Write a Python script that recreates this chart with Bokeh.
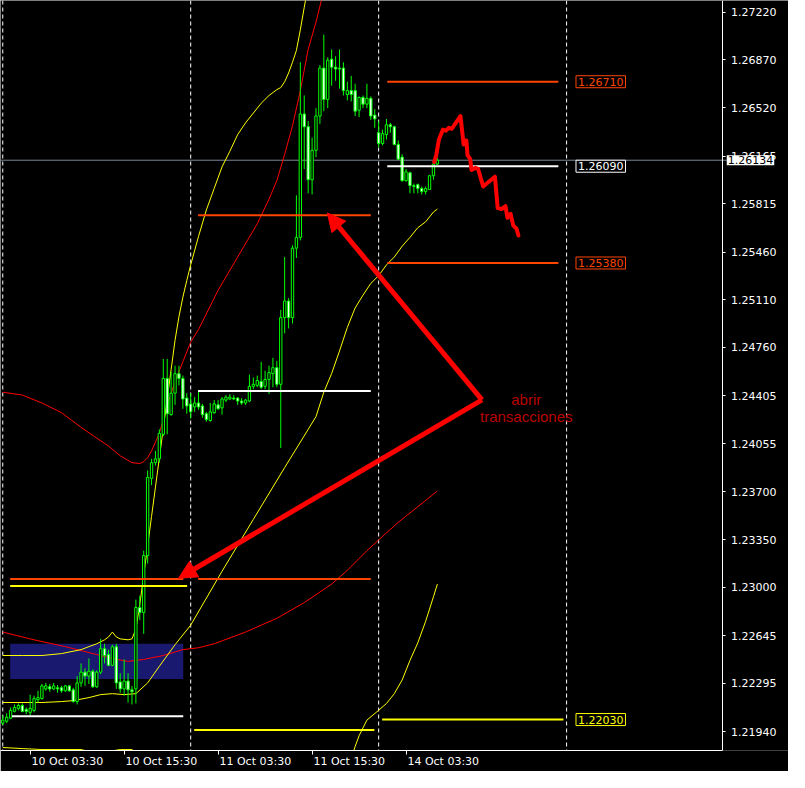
from bokeh.plotting import figure
from bokeh.models import (ColumnDataSource, Range1d, FixedTicker, PrintfTickFormatter, LinearAxis,
                          Label, Arrow, NormalHead, Span, BoxAnnotation)
from bokeh.embed import file_html
from bokeh.resources import INLINE

# ---------------- M30 candles (bar 0 = 10 Oct 00:00) ----------------
opens = [1.22004, 1.22018, 1.22040, 1.22090, 1.22112, 1.22133, 1.22105, 1.22083, 1.22097, 1.22176,
         1.22184, 1.22255, 1.22270, 1.22255, 1.22263, 1.22263, 1.22241, 1.22277, 1.22248, 1.22162,
         1.22299, 1.22378, 1.22349, 1.22385, 1.22270, 1.22378, 1.22550, 1.22507, 1.22428, 1.22564,
         1.22306, 1.22255, 1.22313, 1.22248, 1.22255, 1.22852, 1.22816, 1.23233, 1.23800, 1.23915,
         1.23943, 1.24123, 1.24533, 1.24267, 1.24425, 1.24568, 1.24533, 1.24389, 1.24346, 1.24324,
         1.24353, 1.24331, 1.24274, 1.24224, 1.24281, 1.24339, 1.24317, 1.24374, 1.24382, 1.24389,
         1.24389, 1.24367, 1.24353, 1.24367, 1.24475, 1.24482, 1.24511, 1.24475, 1.24525, 1.24568,
         1.24612, 1.24490, 1.24979, 1.25101, 1.24979, 1.25489, 1.25568, 1.26473, 1.26380, 1.25991,
         1.26207, 1.26458, 1.26810, 1.26580, 1.26875, 1.26817, 1.26810, 1.26810, 1.26616, 1.26645,
         1.26645, 1.26501, 1.26595, 1.26545, 1.26588, 1.26465, 1.26336, 1.26257, 1.26322, 1.26394,
         1.26380, 1.26250, 1.26157, 1.25984, 1.26042, 1.25948, 1.25955, 1.25926, 1.25905, 1.25919,
         1.26020, 1.26106]
highs = [1.22061, 1.22076, 1.22119, 1.22141, 1.22148, 1.22148, 1.22119, 1.22212, 1.22205, 1.22241,
         1.22291, 1.22299, 1.22291, 1.22299, 1.22284, 1.22277, 1.22284, 1.22284, 1.22263, 1.22349,
         1.22442, 1.22406, 1.22478, 1.22399, 1.22392, 1.22622, 1.22586, 1.22543, 1.22579, 1.22586,
         1.22370, 1.22471, 1.22370, 1.22277, 1.22910, 1.22939, 1.23269, 1.23858, 1.23943, 1.24001,
         1.24159, 1.24676, 1.24676, 1.24583, 1.24626, 1.24626, 1.24554, 1.24425, 1.24425, 1.24396,
         1.24446, 1.24346, 1.24288, 1.24353, 1.24374, 1.24374, 1.24396, 1.24410, 1.24418, 1.24410,
         1.24396, 1.24389, 1.24382, 1.24561, 1.24540, 1.24554, 1.24655, 1.24590, 1.24626, 1.24684,
         1.24662, 1.25036, 1.25424, 1.25122, 1.25510, 1.25876, 1.26853, 1.26609, 1.26422, 1.26300,
         1.26516, 1.26832, 1.27055, 1.26889, 1.26947, 1.26897, 1.26947, 1.26853, 1.26710, 1.26753,
         1.26695, 1.26602, 1.26609, 1.26695, 1.26602, 1.26509, 1.26422, 1.26358, 1.26437, 1.26408,
         1.26387, 1.26279, 1.26178, 1.26070, 1.26049, 1.25963, 1.25963, 1.25941, 1.25941, 1.26027,
         1.26135, 1.26149]
lows = [1.21990, 1.22004, 1.22033, 1.22083, 1.22097, 1.22083, 1.22069, 1.22061, 1.22083, 1.22155,
        1.22176, 1.22241, 1.22234, 1.22248, 1.22227, 1.22227, 1.22234, 1.22234, 1.22155, 1.22141,
        1.22270, 1.22277, 1.22291, 1.22263, 1.22263, 1.22363, 1.22442, 1.22421, 1.22421, 1.22255,
        1.22227, 1.22205, 1.22155, 1.22141, 1.22148, 1.22759, 1.22659, 1.23175, 1.23750, 1.23893,
        1.23915, 1.24109, 1.24123, 1.24260, 1.24339, 1.24482, 1.24310, 1.24274, 1.24238, 1.24288,
        1.24303, 1.24245, 1.24216, 1.24216, 1.24274, 1.24303, 1.24267, 1.24360, 1.24374, 1.24374,
        1.24339, 1.24339, 1.24339, 1.24360, 1.24454, 1.24468, 1.24454, 1.24454, 1.24418, 1.24468,
        1.24468, 1.24023, 1.24864, 1.24900, 1.24936, 1.25417, 1.25546, 1.26070, 1.25891, 1.25883,
        1.26157, 1.26401, 1.26494, 1.26516, 1.26681, 1.26717, 1.26660, 1.26609, 1.26573, 1.26566,
        1.26458, 1.26451, 1.26516, 1.26516, 1.26430, 1.26372, 1.26228, 1.26243, 1.26286, 1.26336,
        1.26243, 1.26135, 1.25977, 1.25977, 1.25891, 1.25891, 1.25891, 1.25883, 1.25883, 1.25919,
        1.25991, 1.26099]
closes = [1.22026, 1.22047, 1.22097, 1.22119, 1.22133, 1.22090, 1.22090, 1.22112, 1.22184, 1.22191,
          1.22277, 1.22277, 1.22255, 1.22277, 1.22255, 1.22241, 1.22277, 1.22241, 1.22162, 1.22299,
          1.22378, 1.22349, 1.22385, 1.22270, 1.22378, 1.22550, 1.22500, 1.22428, 1.22564, 1.22299,
          1.22255, 1.22313, 1.22248, 1.22234, 1.22852, 1.22816, 1.23233, 1.23807, 1.23915, 1.23943,
          1.24130, 1.24533, 1.24274, 1.24425, 1.24568, 1.24533, 1.24382, 1.24331, 1.24288, 1.24353,
          1.24324, 1.24267, 1.24231, 1.24288, 1.24346, 1.24310, 1.24382, 1.24396, 1.24396, 1.24382,
          1.24367, 1.24353, 1.24374, 1.24475, 1.24490, 1.24518, 1.24468, 1.24525, 1.24576, 1.24612,
          1.24490, 1.24979, 1.25101, 1.24979, 1.25489, 1.25568, 1.26473, 1.26380, 1.25991, 1.26207,
          1.26458, 1.26810, 1.26580, 1.26868, 1.26817, 1.26803, 1.26803, 1.26645, 1.26645, 1.26616,
          1.26494, 1.26595, 1.26545, 1.26588, 1.26458, 1.26437, 1.26257, 1.26329, 1.26394, 1.26380,
          1.26250, 1.26142, 1.25984, 1.26049, 1.25948, 1.25941, 1.25926, 1.25905, 1.25926, 1.26020,
          1.26106, 1.26134]
bars = list(range(len(opens)))

# ---------------- indicator lines ----------------
fast_upper_x = [0, 5, 10, 15, 20, 22, 24, 26, 27, 28, 29, 30, 32, 33, 34, 35, 36, 37, 38, 39, 40, 41, 42, 43,
                44, 45, 46, 47, 48, 50, 52, 54, 56, 58, 60, 62, 64, 66, 68, 70, 71, 72, 73, 74, 75, 76, 77, 78]
fast_upper_y = [1.22500, 1.22500, 1.22500, 1.22514, 1.22543, 1.22565, 1.22586, 1.22615, 1.22636, 1.22672,
                1.22636, 1.22622, 1.22615, 1.22622, 1.22694, 1.22874, 1.23089, 1.23305, 1.23520, 1.23736,
                1.23951, 1.24167, 1.24382, 1.24598, 1.24813, 1.24986, 1.25129, 1.25251, 1.25366, 1.25575,
                1.25769, 1.25927, 1.26085, 1.26200, 1.26322, 1.26408, 1.26480, 1.26552, 1.26609, 1.26652,
                1.26667, 1.26710, 1.26774, 1.26853, 1.26940, 1.27091, 1.27256, 1.27414]
fast_mid_x = [0, 5, 10, 15, 20, 24, 27, 30, 33, 35, 36, 37, 38, 39, 40, 42, 44, 46, 48, 50,
              55, 60, 65, 68, 70, 72, 74, 76, 78, 80, 82]
fast_mid_y = [1.24432, 1.24411, 1.24353, 1.24282, 1.24174, 1.24095, 1.24037, 1.23965, 1.23915, 1.23908,
              1.23922, 1.23951, 1.24001, 1.24066, 1.24131, 1.24332, 1.24511, 1.24655, 1.24799, 1.24892,
              1.25180, 1.25424, 1.25668, 1.25848, 1.25984, 1.26178, 1.26386, 1.26645, 1.26947, 1.27148,
              1.27378]
slow_upper_x = [0, 10, 15, 18, 22, 25, 28, 31, 34, 37, 40, 44, 48, 56, 64, 72, 78, 80, 82, 84, 86, 88,
                90, 92, 94, 96, 98, 100, 102, 104, 106, 108, 110, 111]
slow_upper_y = [1.22155, 1.22155, 1.22162, 1.22169, 1.22191, 1.22213, 1.22220, 1.22213, 1.22220, 1.22299,
                1.22421, 1.22579, 1.22723, 1.23118, 1.23499, 1.23879, 1.24159, 1.24253, 1.24432, 1.24569,
                1.24734, 1.24907, 1.25050, 1.25144, 1.25230, 1.25287, 1.25366, 1.25424, 1.25503, 1.25568,
                1.25639, 1.25682, 1.25754, 1.25776]
slow_mid_x = [0, 8, 16, 24, 28, 32, 36, 41, 46, 50, 54, 62, 70, 77, 84, 88, 93, 96, 101, 106, 111]
slow_mid_y = [1.22672, 1.22615, 1.22565, 1.22507, 1.22478, 1.22457, 1.22471, 1.22500, 1.22543, 1.22557,
              1.22586, 1.22672, 1.22773, 1.22888, 1.23024, 1.23125, 1.23269, 1.23348, 1.23477, 1.23592,
              1.23707]
lower_x = [0, 5, 10, 20, 23, 27, 30, 33, 36, 88, 90, 91, 93, 96, 98, 100, 102, 104, 106, 108, 110, 111]
lower_y = [1.21825, 1.21817, 1.21810, 1.21810, 1.21789, 1.21796, 1.21810, 1.21810, 1.21738, 1.21667,
           1.21832, 1.21911, 1.22026, 1.22098, 1.22148, 1.22220, 1.22320, 1.22464, 1.22593, 1.22751,
           1.22931, 1.23024]

# hand-drawn forecast path
forecast_x = [110.2, 110.7, 111.4, 112.4, 113.2, 113.9, 114.7, 115.7, 116.9, 117.7, 118.4, 118.7, 119.4,
              119.7, 120.7, 121.4, 122.7, 123.9, 125.7, 126.4, 127.4, 128.4, 128.9, 129.7, 130.4, 131.2, 131.7]
forecast_y = [1.26121, 1.26171, 1.26286, 1.26358, 1.26351, 1.26372, 1.26365, 1.26408, 1.26458, 1.26250,
              1.26279, 1.26171, 1.26142, 1.26063, 1.26078, 1.26070, 1.25941, 1.25970, 1.26013, 1.25783,
              1.25776, 1.25797, 1.25711, 1.25740, 1.25654, 1.25632, 1.25582]

# horizontal level lines
level_price = [1.22055, 1.23062, 1.23010, 1.24440, 1.25730, 1.23062, 1.21954, 1.26710, 1.26090, 1.25380, 1.22030]
level_x0 = [2.35, 1.9, 1.9, 49.9, 49.9, 49.9, 48.9, 98.2, 98.2, 98.2, 96.9]
level_x1 = [46.1, 46.1, 47.1, 94.0, 94.0, 94.0, 94.9, 141.9, 141.9, 141.9, 143.2]
level_color = ["white", "#ff4500", "#ffff00", "white", "#ff4500", "#ff4500", "#ffff00",
               "#ff4500", "white", "#ff4500", "#ffff00"]
tag_price = [1.26710, 1.26090, 1.25380, 1.22030]
tag_color = ["#ff4500", "white", "#ff4500", "#ffff00"]
tag_x = 146.4

zone_left, zone_right, zone_bottom, zone_top = 1.9, 46.1, 1.22328, 1.22586

price_ticks = [1.27220, 1.26870, 1.26520, 1.26165, 1.25815, 1.25460, 1.25110, 1.24760,
               1.24405, 1.24055, 1.23700, 1.23350, 1.23000, 1.22645, 1.22295, 1.21940]
date_ticks = [7, 31, 55, 79, 103]
date_labels = ["10 Oct 03:30", "10 Oct 15:30", "11 Oct 03:30", "11 Oct 15:30", "14 Oct 03:30"]
date_label_shift = 9.5   # labels are printed to the right of their tick
day_starts = [0, 48, 96, 144]
current_price = 1.26134

arrow_from = (122.4, 1.24375)
arrow_to = [(82.9, 1.25747), (44.9, 1.23067)]
note_x = 133.7
note_lines = [("abrir", 1.24375), ("transacciones", 1.24253)]

X0, X1 = -0.575, 200.675      # visible bars (incl. price-scale strip)
AXIS_X = 183.925              # where the price scale sits
Y0, Y1 = 1.21803, 1.27306

FONT = "DejaVu Sans"

# ---------------- figure ----------------
p = figure(frame_width=788, frame_height=750, x_range=Range1d(X0, X1), y_range=Range1d(Y0, Y1),
           output_backend="svg", toolbar_location=None, x_axis_location=None, y_axis_location=None,
           background_fill_color="black", border_fill_color="black", outline_line_color=None,
           min_border=0, min_border_bottom=21)
p.grid.visible = False

ya = LinearAxis(fixed_location=AXIS_X, bounds=(Y0, Y1),
                ticker=FixedTicker(ticks=price_ticks, minor_ticks=[]),
                formatter=PrintfTickFormatter(format="%.5f"),
                axis_line_color="white", major_tick_line_color="white",
                major_tick_in=0, major_tick_out=3, minor_tick_line_color=None,
                major_label_text_color="white", major_label_text_font=FONT,
                major_label_text_font_size="11px", major_label_standoff=5)
p.add_layout(ya, "right")

xa = LinearAxis(bounds=(X0, AXIS_X), ticker=FixedTicker(ticks=date_ticks, minor_ticks=[]),
                axis_line_color="white", major_tick_line_color="white",
                major_tick_in=0, major_tick_out=4, minor_tick_line_color=None,
                major_label_text_color=None, major_label_text_font_size="0px",
                major_label_standoff=0)
p.add_layout(xa, "below")

label_ticks = [t + date_label_shift for t in date_ticks]
xl = LinearAxis(ticker=FixedTicker(ticks=label_ticks, minor_ticks=[]),
                major_label_overrides={lt: lab for lt, lab in zip(label_ticks, date_labels)},
                axis_line_color=None, major_tick_line_color=None, minor_tick_line_color=None,
                major_tick_in=0, major_tick_out=0,
                major_label_text_color="white", major_label_text_font=FONT,
                major_label_text_font_size="11px", major_label_standoff=0)
p.add_layout(xl, "below")

# zone box
p.add_layout(BoxAnnotation(left=zone_left, right=zone_right, bottom=zone_bottom, top=zone_top,
                           fill_color="#191970", fill_alpha=1.0, line_color=None, level="underlay"))
# day separators
for d in day_starts:
    p.add_layout(Span(location=d, dimension="height", line_color="white", line_width=1,
                      line_dash="4 3", level="underlay"))
# current price line (up to the price tag)
p.segment(x0=[X0], y0=[current_price], x1=[184.9], y1=[current_price], line_color="#778899", line_width=1)

# indicator lines
p.line(slow_mid_x, slow_mid_y, line_color="#ff0000", line_width=1)
p.line(lower_x, lower_y, line_color="#ffff00", line_width=1)
p.line(slow_upper_x, slow_upper_y, line_color="#ffff00", line_width=1)
p.line(fast_mid_x, fast_mid_y, line_color="#ff0000", line_width=1)
p.line(fast_upper_x, fast_upper_y, line_color="#ffff00", line_width=1)

# candles
src = ColumnDataSource(dict(
    x=bars, o=opens, h=highs, l=lows, c=closes,
    top=[max(o, c) for o, c in zip(opens, closes)],
    bottom=[min(o, c) for o, c in zip(opens, closes)],
    fill=["black" if c >= o else "white" for o, c in zip(opens, closes)]))
p.segment("x", "h", "x", "l", source=src, line_color="#00ff00", line_width=1)
p.vbar(x="x", width=0.6, top="top", bottom="bottom", source=src,
       fill_color="fill", line_color="#00ff00", line_width=1)

# level lines
p.segment(x0=level_x0, y0=level_price, x1=level_x1, y1=level_price, line_color=level_color, line_width=2)

# forecast path
p.line(forecast_x, forecast_y, line_color="#ff0000", line_width=4, line_join="round", line_cap="round")

# tags on levels
for pr, col in zip(tag_price, tag_color):
    p.add_layout(Label(x=tag_x, y=pr, text=f"{pr:.5f}", text_color=col, text_font=FONT,
                       text_font_size="11px", text_baseline="middle", text_align="left",
                       border_line_color=col, border_line_width=1, background_fill_color="black",
                       padding=2))

# arrows
for (tx, ty) in arrow_to:
    p.add_layout(Arrow(end=NormalHead(size=18, fill_color="#ff0000", line_color="#ff0000"),
                       x_start=arrow_from[0], y_start=arrow_from[1], x_end=tx, y_end=ty,
                       line_color="#ff0000", line_width=5))

for txt, yy in note_lines:
    p.add_layout(Label(x=note_x, y=yy, text=txt, text_color="#b80000", text_font="Liberation Sans",
                       text_font_size="15px", text_align="center", text_baseline="alphabetic"))

# current price tag on the price scale
p.add_layout(Label(x=184.9, y=current_price, text=f"{current_price:.5f}", text_color="black",
                   text_font=FONT, text_font_size="11px", text_align="left",
                   text_baseline="middle", background_fill_color="white", padding=1, level="overlay"))

open("out.html", "w").write(file_html(p, INLINE))
